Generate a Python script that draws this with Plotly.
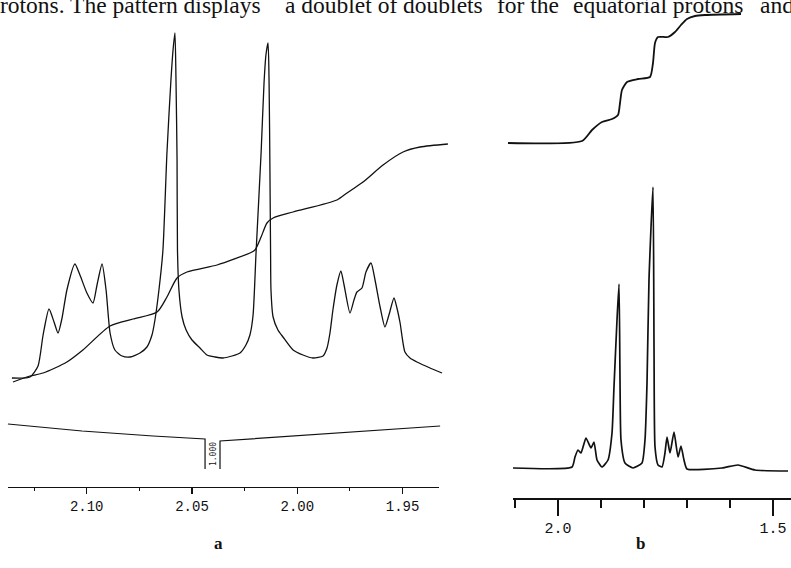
import plotly.graph_objects as go

# ---------------- Panel a: expanded 1H spectrum (ppm vs. relative intensity) ----------------
a_ppm = [2.1355, 2.1269, 2.1231, 2.1207, 2.1179, 2.1155, 2.1136, 2.1117, 2.1094, 2.1056,
         2.1032, 2.0999, 2.0970, 2.0951, 2.0927, 2.0908, 2.0889, 2.0866, 2.0832, 2.0794,
         2.0747, 2.0714, 2.0690, 2.0676, 2.0657, 2.0638, 2.0619, 2.0600, 2.0590, 2.0581,
         2.0576, 2.0571, 2.0569, 2.0562, 2.0547, 2.0528, 2.0500, 2.0462, 2.0429, 2.0391,
         2.0353, 2.0310, 2.0272, 2.0244, 2.0225, 2.0210, 2.0196, 2.0172, 2.0158, 2.0149,
         2.0139, 2.0134, 2.0130, 2.0127, 2.0125, 2.0115, 2.0092, 2.0068, 2.0020, 1.9973,
         1.9926, 1.9878, 1.9859, 1.9845, 1.9831, 1.9812, 1.9793, 1.9778, 1.9750, 1.9731,
         1.9717, 1.9693, 1.9674, 1.9650, 1.9631, 1.9607, 1.9584, 1.9565, 1.9541, 1.9527,
         1.9512, 1.9489, 1.9465, 1.9432, 1.9370, 1.9313]
a_int = [109, 110, 121, 152, 178, 165, 154, 169, 197, 223,
         212, 194, 184, 202, 223, 197, 154, 137, 131, 130,
         134, 140, 152, 167, 197, 237, 334, 407, 437, 454,
         407, 327, 237, 197, 170, 157, 147, 139, 132, 130,
         129, 131, 134, 142, 152, 172, 234, 334, 404, 432,
         444, 404, 317, 237, 197, 170, 157, 150, 137, 132,
         129, 131, 139, 154, 177, 202, 216, 202, 174, 187,
         195, 199, 215, 224, 207, 180, 160, 172, 189, 179,
         164, 135, 129, 125, 119, 114]

# integral curve of panel a
a_integral_ppm = [2.1350, 2.1269, 2.1207, 2.1094, 2.1018, 2.0889, 2.0780, 2.0666, 2.0619,
                  2.0571, 2.0524, 2.0381, 2.0286, 2.0225, 2.0201, 2.0172, 2.0144, 2.0115,
                  2.0020, 1.9812, 1.9764, 1.9688, 1.9593, 1.9498, 1.9417, 1.9285]
a_integral = [105, 111, 114, 125, 137, 161, 168, 175, 190,
              209, 215, 222, 229, 234, 237, 250, 264, 269,
              275, 287, 294, 305, 322, 335, 340, 343]

# integration region trace (with the "1.000" label)
a_region_ppm = [2.1374, 2.1022, 2.0685, 2.0438, 2.0438, None, 2.0367, 2.0367, 1.9322]
a_region = [63, 56, 51, 48, 18, None, 18, 46, 61]
a_region_label = "1.000"
a_region_label_ppm = 2.0400
a_region_label_y = 33

a_ticks = [2.10, 2.05, 2.00, 1.95]
a_tick_labels = ["2.10", "2.05", "2.00", "1.95"]
a_minor_ticks = [2.125, 2.075, 2.025, 1.975]

# ---------------- Panel b: full 1H spectrum ----------------
b_ppm = [2.1047, 1.9674, 1.9605, 1.9535, 1.9465, 1.9349, 1.9233, 1.9163, 1.9093, 1.8977,
         1.8837, 1.8744, 1.8698, 1.8628, 1.8581, 1.8558, 1.8535, 1.8442, 1.8256, 1.8047,
         1.7977, 1.7930, 1.7884, 1.7791, 1.7767, 1.7744, 1.7674, 1.7581, 1.7512, 1.7465,
         1.7395, 1.7302, 1.7209, 1.7140, 1.7070, 1.7000, 1.6186, 1.5814, 1.5419, 1.4651]
b_int = [30, 31, 41, 48, 45, 60, 50, 56, 38, 31,
         38, 65, 111, 178, 214, 118, 58, 35, 30, 35,
         58, 115, 218, 311, 151, 51, 33, 31, 45, 61,
         45, 66, 41, 52, 38, 29, 30, 33, 28, 27]

b_integral_ppm = [2.1163, 1.9442, 1.9209, 1.8977, 1.8744, 1.8605, 1.8558, 1.8512, 1.8395,
                  1.8140, 1.7860, 1.7791, 1.7744, 1.7674, 1.7442, 1.7279, 1.7140, 1.7000,
                  1.6814, 1.6581, 1.5744]
b_integral = [355, 357, 368, 376, 379, 383, 395, 408, 416,
              419, 421, 435, 455, 461, 461, 466, 473, 479,
              482, 483, 484]

b_ticks = [2.0, 1.5]
b_tick_labels = ["2.0", "1.5"]
b_minor_ticks = [2.1, 1.9, 1.8, 1.7, 1.6]

# header line of the scanned page (justified text, top of the glyphs cut off)
header_words = ["rotons. The pattern displays", "a doublet of doublets",
                "for the", "equatorial protons", "and"]
header_word_x = [-2, 283, 495, 571, 758]
panel_labels = ["a", "b"]

INK = "#111111"
W, H = 791, 568

fig = go.Figure()

# data traces on hidden (wider) axes so the curves are not clipped at the axis ends
fig.add_trace(go.Scatter(x=a_ppm, y=a_int, xaxis="x3", yaxis="y3", mode="lines",
                         line=dict(color=INK, width=1.3, shape="spline", smoothing=0.6),
                         hoverinfo="skip"))
fig.add_trace(go.Scatter(x=a_integral_ppm, y=a_integral, xaxis="x3", yaxis="y3", mode="lines",
                         line=dict(color=INK, width=1.3, shape="spline", smoothing=0.7),
                         hoverinfo="skip"))
fig.add_trace(go.Scatter(x=a_region_ppm, y=a_region, xaxis="x3", yaxis="y3", mode="lines",
                         line=dict(color=INK, width=1.2), connectgaps=False, hoverinfo="skip"))
fig.add_trace(go.Scatter(x=b_ppm, y=b_int, xaxis="x4", yaxis="y4", mode="lines",
                         line=dict(color=INK, width=1.7, shape="spline", smoothing=0.5),
                         hoverinfo="skip"))
fig.add_trace(go.Scatter(x=b_integral_ppm, y=b_integral, xaxis="x4", yaxis="y4", mode="lines",
                         line=dict(color=INK, width=1.8, shape="spline", smoothing=0.6),
                         hoverinfo="skip"))
# empty traces so the visible axes get their subplots
fig.add_trace(go.Scatter(x=[], y=[], xaxis="x", yaxis="y", mode="lines"))
fig.add_trace(go.Scatter(x=[], y=[], xaxis="x2", yaxis="y2", mode="lines"))

ya0 = (H - 487) / H
yb0 = (H - 498) / H

fig.update_layout(
    width=W, height=H,
    margin=dict(l=0, r=0, t=0, b=0),
    paper_bgcolor="white", plot_bgcolor="white",
    showlegend=False,
    xaxis=dict(domain=[8 / W, 439 / W], range=[2.13736, 1.93272], anchor="y",
               showline=True, linecolor=INK, linewidth=1.3, showgrid=False, zeroline=False,
               ticks="outside", ticklen=6, tickwidth=1.2, tickcolor=INK,
               tickmode="array", tickvals=a_ticks, ticktext=a_tick_labels,
               tickfont=dict(family="Liberation Mono", size=14, color=INK),
               ticklabelstandoff=0,
               minor=dict(tickmode="array", tickvals=a_minor_ticks, ticks="outside",
                          ticklen=3, tickwidth=1, tickcolor=INK, showgrid=False)),
    yaxis=dict(domain=[ya0, 1], range=[0, 487], visible=False, anchor="x"),
    xaxis2=dict(domain=[513 / W, 1], range=[2.10465, 1.45814], anchor="y2",
                showline=True, linecolor=INK, linewidth=1.6, showgrid=False, zeroline=False,
                ticks="outside", ticklen=16, tickwidth=1.5, tickcolor=INK,
                tickmode="array", tickvals=b_ticks, ticktext=b_tick_labels,
                tickfont=dict(family="Liberation Mono", size=15, color=INK),
                ticklabelstandoff=-1,
                minor=dict(tickmode="array", tickvals=b_minor_ticks, ticks="outside",
                           ticklen=8, tickwidth=1.4, tickcolor=INK, showgrid=False)),
    yaxis2=dict(domain=[yb0, 1], range=[0, 498], visible=False, anchor="x2"),
    xaxis3=dict(domain=[0, 470 / W], range=[2.14116, 1.91801], visible=False, anchor="y3"),
    yaxis3=dict(domain=[ya0, 1], range=[0, 487], visible=False, anchor="x3"),
    xaxis4=dict(domain=[495 / W, 1], range=[2.14651, 1.45814], visible=False, anchor="y4"),
    yaxis4=dict(domain=[yb0, 1], range=[0, 498], visible=False, anchor="x4"),
)

fig.add_annotation(x=a_region_label_ppm, y=a_region_label_y, xref="x3", yref="y3",
                   text=a_region_label, textangle=-90, showarrow=False,
                   font=dict(family="DejaVu Sans Mono", size=8, color=INK))

for word, px in zip(header_words, header_word_x):
    fig.add_annotation(x=px / W, y=1 - 5 / H, xref="paper", yref="paper", xanchor="left",
                       yanchor="middle", text=word, showarrow=False,
                       font=dict(family="Liberation Serif", size=23.5, color=INK))

for lbl, px in zip(panel_labels, [212, 647]):
    fig.add_annotation(x=px / W, y=1 - 555 / H, xref="paper", yref="paper",
                       text="<b>%s</b>" % lbl, showarrow=False,
                       font=dict(family="Liberation Serif", size=17, color=INK))

fig.write_html("out.html", config={"displayModeBar": False, "staticPlot": True},
               post_script="document.body.style.margin='0';document.body.style.padding='0';")
